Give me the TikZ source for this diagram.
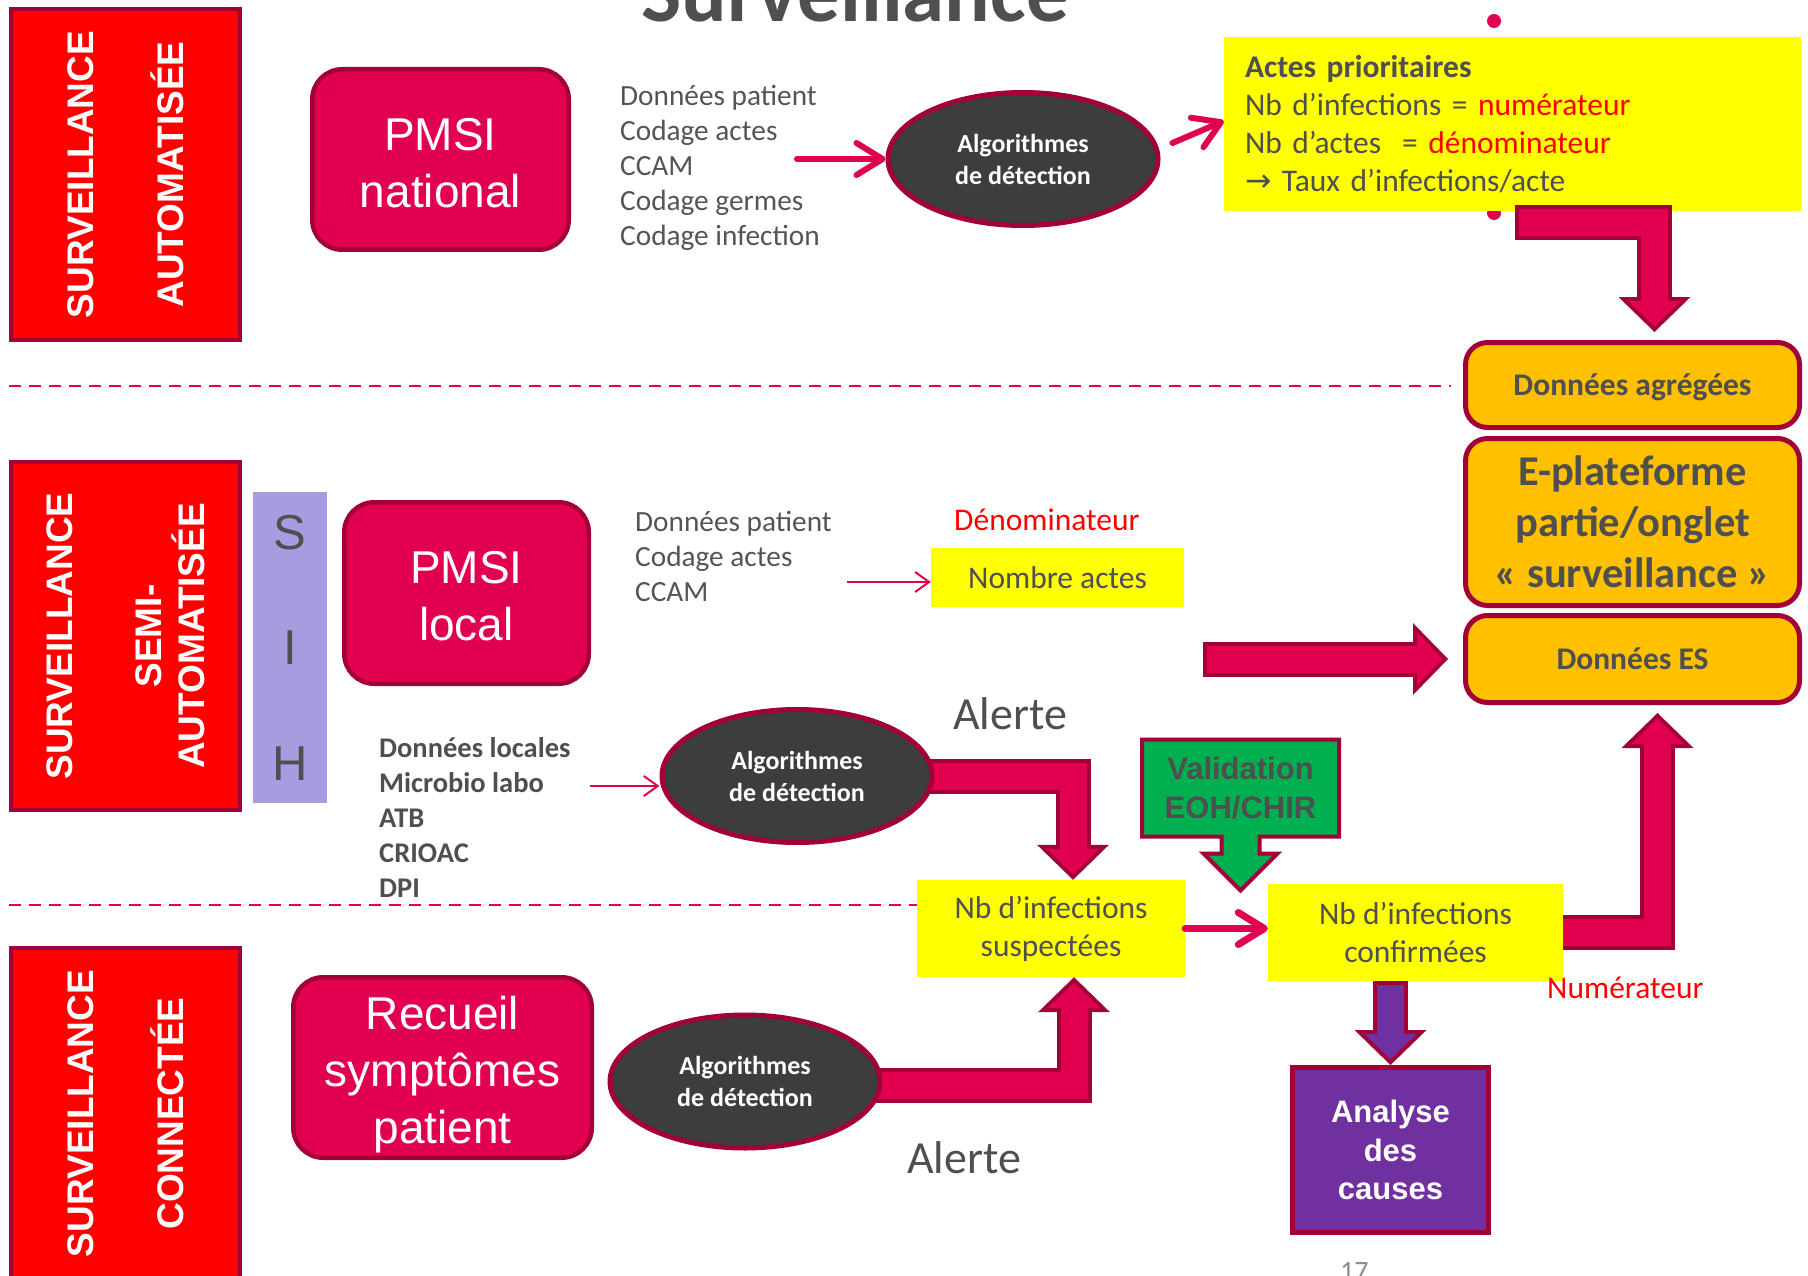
\documentclass[tikz,border=0pt]{standalone}
\usepackage{fontspec}
\setmainfont{Carlito}
\newfontfamily\arialf{Liberation Sans}
\newfontfamily\symf{DejaVu Sans}
\usepackage{tikz}
\usetikzlibrary{arrows.meta, shapes.geometric, shapes.arrows}
\pgfdeclarelayer{behind}
\pgfsetlayers{behind,main}

\definecolor{crim}{HTML}{E20050}
\definecolor{crimD}{HTML}{A30038}
\definecolor{txt}{HTML}{4F4F4F}
\definecolor{lsttxt}{HTML}{555555}
\definecolor{lav}{HTML}{A99BE0}
\definecolor{ellf}{HTML}{3D3D3D}
\definecolor{orng}{HTML}{FFC000}
\definecolor{grn}{HTML}{00B050}
\definecolor{purp}{HTML}{7030A0}
\definecolor{yel}{HTML}{FFFF00}
\definecolor{pggray}{HTML}{8C8C8C}

\tikzset{
  redbox/.style={draw=crimD, line width=4pt, fill=red, rotate=90, text=white, align=center,
    font=\arialf\bfseries\fontsize{37}{43}\selectfont},
  pmsi/.style={draw=crimD, line width=4.5pt, fill=crim, rounded corners=30pt, text=white,
    align=center, font=\arialf\fontsize{46}{57}\selectfont},
  algo/.style={ellipse, draw=crimD, line width=5pt, fill=ellf, minimum width=270pt,
    minimum height=133pt, text=white, align=center, font=\bfseries\fontsize{26}{32}\selectfont},
  yelbox/.style={fill=yel, text=txt, align=center, font=\fontsize{31.5}{38}\selectfont},
  orbox/.style={draw=crimD, line width=5pt, fill=orng, rounded corners=22pt, minimum width=334pt,
    inner ysep=2pt, text=txt, align=center, font=\bfseries\fontsize{31.5}{38}\selectfont},
  lst/.style={anchor=north west, inner sep=0pt, align=left, text=lsttxt,
    font=\fontsize{29.3}{35}\selectfont},
  lbl/.style={anchor=base west, inner sep=0pt},
  thinarr/.style={draw=crim, line width=2pt, -{Straight Barb[length=14pt, width=20pt]}},
  fatarr/.style={draw=crim, line width=6pt, line cap=round,
    -{Straight Barb[round, length=26pt, width=32pt]}},
  fatrim/.style={draw=crimD, line width=35pt, line join=miter,
    -{Triangle[length=35pt, width=72pt, line width=0pt]}},
  fatcore/.style={draw=#1, line width=27pt, line join=miter, shorten >=5.6pt,
    -{Triangle[length=25.4pt, width=52.3pt, line width=0pt]}},
  dashsep/.style={draw=crim, line width=1.8pt, dash pattern=on 12pt off 8pt},
}

\begin{document}
\begin{tikzpicture}[x=1pt, y=-1pt]
  \useasboundingbox (0,0) rectangle (1808,1276);
  \node[anchor=base, inner sep=0pt, text=txt, font=\bfseries\fontsize{85}{100}\selectfont] (titre) at (855,22) {Surveillance};

  \node[redbox, minimum width=331pt, minimum height=229pt] (auto) at (125.5,174.5) {SURVEILLANCE\\[47pt]AUTOMATISÉE};
  \node[redbox, minimum width=348pt, minimum height=229pt] (semi) at (125.5,636) {SURVEILLANCE\\[46pt]SEMI-\\AUTOMATISÉE};
  \node[redbox, minimum width=331pt, minimum height=229pt] (conn) at (125.5,1113.5) {SURVEILLANCE\\[47pt]CONNECTÉE};
  \node[fill=lav, minimum width=74pt, minimum height=311pt, inner sep=0pt, align=center, text=txt,
    font=\arialf\fontsize{49}{115.5}\selectfont] (sih) at (290,647.5) {S\\I\\H};

  \node[pmsi, minimum width=256.5pt, minimum height=180.5pt] (pmsin) at (440.5,159.5) {\rule{0pt}{39pt}PMSI\\national};
  \node[pmsi, minimum width=244.5pt, minimum height=181.5pt] (pmsil) at (466.5,593) {\rule{0pt}{38pt}PMSI\\local};
  \node[pmsi, minimum width=298.5pt, minimum height=180.5pt] (recueil) at (442.5,1067.5) {\rule{0pt}{48pt}Recueil\\symptômes\\patient};

  \node[lst] (src1) at (620,85) {Données patient\\Codage actes\\CCAM\\Codage germes\\Codage infection};
  \node[lst] (src2) at (635,511) {Données patient\\Codage actes\\CCAM};
  \node[lst, text=txt, font=\bfseries\fontsize{28.5}{35}\selectfont] (src3) at (379,737) {Données locales\\Microbio labo\\ATB\\CRIOAC\\DPI};

  \node[algo] (alg1) at (1023,159) {Algorithmes\\de détection};
  \node[algo] (alg2) at (797,776) {Algorithmes\\de détection};
  \node[algo] (alg3) at (745,1081.5) {Algorithmes\\de détection};

  \fill[crim] (1494,21) circle (7pt);
  \fill[crim] (1494,213) circle (7pt);
  \node[fill=yel, minimum width=577pt, minimum height=174pt, text width=535pt, inner xsep=21pt,
    align=left, text=txt, font=\fontsize{31.5}{38}\selectfont] (actes) at (1512.5,124)
    {\textbf{Actes prioritaires}\\Nb d’infections = \textcolor{red}{numérateur}\\
     Nb d’actes\ \ = \textcolor{red}{dénominateur}\\{\symf →} Taux d’infections/acte};

  \node[lbl, text=red, font=\fontsize{31.5}{38}\selectfont] (denom) at (954,530) {Dénominateur};
  \node[yelbox, minimum width=253pt, minimum height=59pt] (nombre) at (1057.5,577.5) {Nombre actes};
  \node[lbl, text=txt, font=\fontsize{46}{55}\selectfont] (alerte1) at (953,729) {Alerte};
  \node[lbl, text=txt, font=\fontsize{46}{55}\selectfont] (alerte2) at (907,1173) {Alerte};
  \node[yelbox, minimum width=268pt, minimum height=97pt] (susp) at (1051,928.5) {Nb d’infections\\suspectées};
  \node[yelbox, minimum width=295pt, minimum height=97pt] (conf) at (1415.5,932.5) {Nb d’infections\\confirmées};
  \node[lbl, text=red, font=\fontsize{31.5}{38}\selectfont] (numer) at (1547,998) {Numérateur};

  \node[arrow box, arrow box arrows={south:52pt}, arrow box shaft width=38pt, arrow box head extend=18pt,
    draw=crimD, line width=4pt, fill=grn, minimum width=197pt, minimum height=97pt, inner sep=2pt,
    text=txt, align=center, font=\arialf\bfseries\fontsize{31}{39}\selectfont] (valid) at (1240.5,788) {Validation\\EOH/CHIR};
  \node[draw=crimD, line width=5pt, fill=purp, minimum width=196pt, minimum height=165pt, text=white,
    align=center, font=\arialf\bfseries\fontsize{31}{38.5}\selectfont] (analyse) at (1390.5,1150) {Analyse\\des\\causes};

  \node[orbox, minimum height=85pt] (agr) at (1632.5,385) {\rule{0pt}{27pt}Données agrégées};
  \node[orbox, minimum height=167pt, font=\bfseries\fontsize{42.5}{51}\selectfont] (eplat) at (1632.5,522) {E-plateforme\\partie/onglet\\« surveillance »};
  \node[orbox, minimum height=87pt] (es) at (1632.5,659) {Données ES};
  \node[lbl, text=pggray, font=\fontsize{28}{30}\selectfont] (page) at (1340,1280) {17};

  \coordinate (d1) at (9,386);
  \coordinate (d2) at (9,905);
  \draw[dashsep, shorten >=12pt] (d1) -- (d1 -| agr.west);
  \draw[dashsep] (d2) -- (d2 -| susp.west);

  \coordinate (a1) at (797,159);
  \draw[fatarr] (a1) -- (alg1.west);
  \draw[fatarr] ([shift={(12,-16)}]alg1.east) -- ([shift={(0,-3)}]actes.west);
  \coordinate (a3) at (847,582);
  \draw[thinarr] (a3) -- (a3 -| nombre.west);
  \coordinate (a4) at (590,786);
  \draw[thinarr] (a4) -- (a4 -| alg2.west);
  \draw[fatarr, line width=7pt] (susp.east) -- (susp.east -| conf.west);

  \coordinate (t1) at (1515,223);
  \draw[fatrim] (t1) -| ([shift={(22,-8)}]agr.north);
  \draw[fatcore=crim, shorten <=4pt] (t1) -| ([shift={(22,-8)}]agr.north);
  \coordinate (b1) at (1203,659);
  \draw[fatrim] (b1) -- ([xshift=-15pt]es.west);
  \draw[fatcore=crim, shorten <=4pt] (b1) -- ([xshift=-15pt]es.west);
  \draw[fatrim] (conf.south -| analyse.north) -- (analyse.north);
  \draw[fatcore=purp, shorten <=4pt] (conf.south -| analyse.north) -- (analyse.north);

  \begin{pgfonlayer}{behind}
    \fill[white] (0,0) rectangle (1808,1276);
    \draw[fatrim] (alg2.center) -| ([xshift=22pt]susp.north);
    \draw[fatcore=crim] (alg2.center) -| ([xshift=22pt]susp.north);
    \draw[fatrim] ([shift={(0,4)}]alg3.center) -| ([xshift=23pt]susp.south);
    \draw[fatcore=crim] ([shift={(0,4)}]alg3.center) -| ([xshift=23pt]susp.south);
    \draw[fatrim] (conf.center) -| ([shift={(25,8)}]es.south);
    \draw[fatcore=crim] (conf.center) -| ([shift={(25,8)}]es.south);
  \end{pgfonlayer}
\end{tikzpicture}
\end{document}
